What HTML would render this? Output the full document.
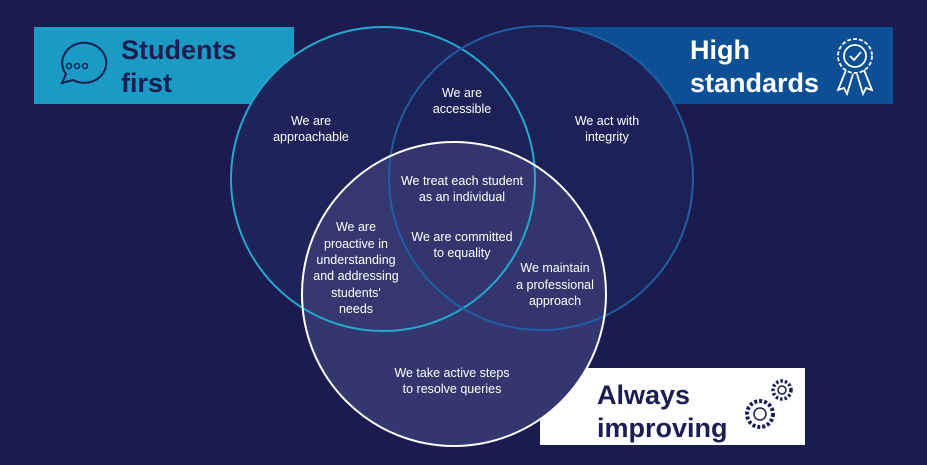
<!DOCTYPE html>
<html><head><style>
html,body{margin:0;padding:0;background:#1c1b50;}
svg{display:block}
text{font-family:"Liberation Sans",sans-serif;}
</style></head><body>
<svg width="927" height="465" viewBox="0 0 927 465">
<rect width="927" height="465" fill="#1c1b50"/>
<rect x="34" y="27" width="260" height="77" fill="#1b9ac6"/>
<rect x="560" y="27" width="333" height="77" fill="#0c4f95"/>
<rect x="540" y="368" width="265" height="77" fill="#ffffff"/>
<circle cx="454" cy="294" r="152" fill="#1e2358"/>
<circle cx="383" cy="179" r="152" fill="#1e2359"/>
<circle cx="541" cy="178" r="152" fill="#1c2257"/>
<circle cx="454" cy="294" r="152" fill="rgba(80,80,140,0.45)"/>
<circle cx="383" cy="179" r="152" fill="none" stroke="#25a7d0" stroke-width="2"/>
<circle cx="541" cy="178" r="152" fill="none" stroke="#1f5ea2" stroke-width="2"/>
<circle cx="454" cy="294" r="152" fill="none" stroke="#ffffff" stroke-width="2"/>
<g font-weight="bold" font-size="27">
<text x="121" y="59" fill="#1c1e52">Students</text>
<text x="121" y="92" fill="#1c1e52">first</text>
<text x="690" y="59" fill="#fff">High</text>
<text x="690" y="92" fill="#fff">standards</text>
<text x="597" y="404" fill="#1c1e52">Always</text>
<text x="597" y="437" fill="#1c1e52">improving</text>
</g>
<g fill="none" stroke="#1c1e52" stroke-width="2">
<path d="M62 83 L66 74 A22 20 0 1 1 73 80 Z"/>
</g>
<g fill="none" stroke="#1c1e52" stroke-width="1.5">
<circle cx="69" cy="66" r="2.5"/><circle cx="77" cy="66" r="2.5"/><circle cx="85" cy="66" r="2.5"/>
</g>
<g fill="none" stroke="#fff" stroke-width="1.8">
<circle cx="855" cy="56" r="17" stroke-dasharray="4 2"/>
<circle cx="855" cy="56" r="11"/>
<path d="M850 56 l4 4 l7 -8"/>
<path d="M846 70 L838 90 L844 88 L847 94 L853 74"/>
<path d="M864 70 L872 90 L866 88 L863 94 L857 74"/>
</g>
<g fill="none" stroke="#1c1e52" stroke-width="1.5">
<circle cx="760" cy="414" r="13" stroke-dasharray="3 2" stroke-width="4"/>
<circle cx="760" cy="414" r="6"/>
<circle cx="782" cy="390" r="9" stroke-dasharray="2.5 2" stroke-width="3.5"/>
<circle cx="782" cy="390" r="4"/>
</g>
<g fill="#fff" font-size="12.5" text-anchor="middle">
<text x="311" y="125">We are</text><text x="311" y="141">approachable</text>
<text x="462" y="97">We are</text><text x="462" y="113">accessible</text>
<text x="607" y="125">We act with</text><text x="607" y="141">integrity</text>
<text x="462" y="185">We treat each student</text><text x="462" y="201">as an individual</text>
<text x="462" y="241">We are committed</text><text x="462" y="257">to equality</text>
<text x="356" y="231">We are</text><text x="356" y="248">proactive in</text><text x="356" y="264">understanding</text><text x="356" y="280">and addressing</text><text x="356" y="297">students'</text><text x="356" y="313">needs</text>
<text x="555" y="272">We maintain</text><text x="555" y="289">a professional</text><text x="555" y="305">approach</text>
<text x="452" y="377">We take active steps</text><text x="452" y="393">to resolve queries</text>
</g>
</svg>
</body></html>
